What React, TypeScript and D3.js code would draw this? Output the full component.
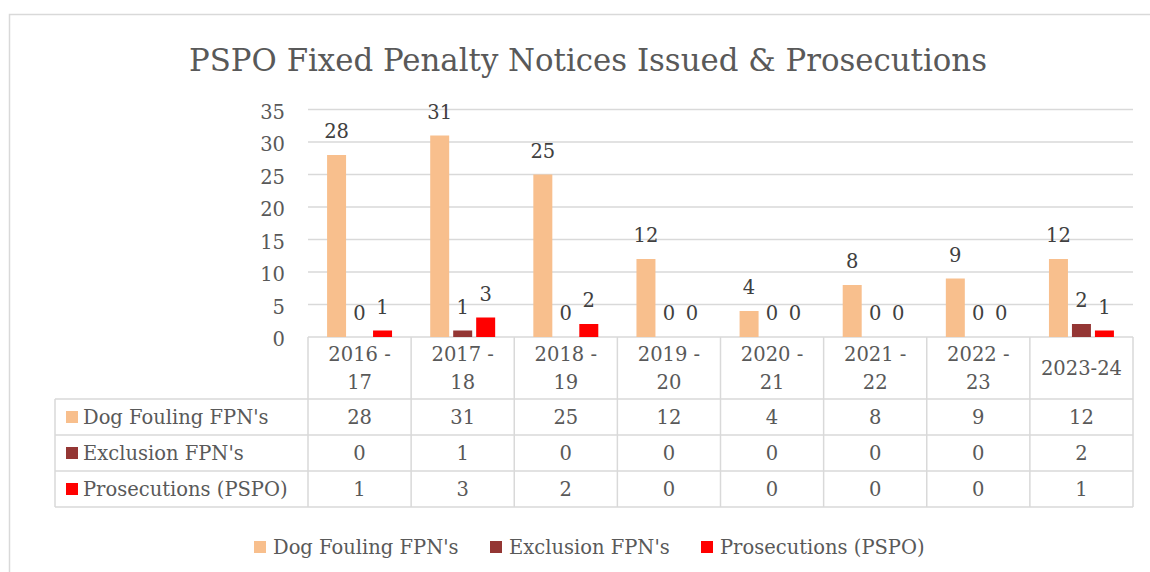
import React from "react";
import * as d3 from "d3";

const W = 1150;
const H = 572;
const FONT = "'DejaVu Serif', Cambria, serif";
const FS = 19.5;

const categories = ["2016 - 17", "2017 - 18", "2018 - 19", "2019 - 20", "2020 - 21", "2021 - 22", "2022 - 23", "2023-24"];
const seriesNames = ["Dog Fouling FPN's", "Exclusion FPN's", "Prosecutions (PSPO)"];
const dogFouling = [28, 31, 25, 12, 4, 8, 9, 12];
const exclusion = [0, 1, 0, 0, 0, 0, 0, 2];
const prosecutions = [1, 3, 2, 0, 0, 0, 0, 1];
const colors = ["#F8BF8D", "#943634", "#FF0000"];
const yTicks = [0, 5, 10, 15, 20, 25, 30, 35];

const PLOT = { left: 308, right: 1133, top: 109.5, bottom: 337 };
const TABLE = { left: 55, headerBottom: 399, rowH: 36 };
const LEGEND_X = [254, 490, 701];

const App = () => {
  const values = [dogFouling, exclusion, prosecutions];

  const x = d3.scaleBand<string>().domain(categories).range([PLOT.left, PLOT.right]).padding(0);
  const xInner = d3
    .scaleBand<string>()
    .domain(seriesNames)
    .range([0, x.bandwidth()])
    .paddingInner(0.174)
    .paddingOuter(0.83);
  const y = d3.scaleLinear().domain([0, 35]).range([PLOT.bottom, PLOT.top]);

  const grid = "#d9d9d9";
  const textCol = "#595959";
  const rowsBottom = TABLE.headerBottom + TABLE.rowH * seriesNames.length;

  return (
    <svg width={W} height={H} style={{ position: "absolute", left: 0, top: 0 }} fontFamily={FONT}>
      <rect x={0} y={0} width={W} height={H} fill="#fff" />
      <rect x={9.5} y={14.5} width={W + 20} height={H + 20} fill="none" stroke={grid} strokeWidth={1.5} />

      <text x={588} y={71} textAnchor="middle" fontSize={30.8} fill={textCol}>
        PSPO Fixed Penalty Notices Issued &amp; Prosecutions
      </text>

      {/* gridlines + y ticks */}
      {yTicks.map((t) => (
        <g key={t}>
          <line x1={PLOT.left} x2={PLOT.right} y1={y(t)} y2={y(t)} stroke={grid} strokeWidth={1.4} />
          <text x={285} y={y(t) + 2} dy="0.36em" textAnchor="end" fontSize={FS} fill={textCol}>
            {t}
          </text>
        </g>
      ))}

      {/* bars */}
      {seriesNames.map((s, si) => (
        <g key={s}>
          {categories.map((c, ci) => {
            const v = values[si][ci];
            const bx = (x(c) || 0) + (xInner(s) || 0);
            return (
              <g key={c}>
                <rect x={bx} y={y(v)} width={xInner.bandwidth()} height={y(0) - y(v)} fill={colors[si]} />
                <text x={bx + xInner.bandwidth() / 2} y={y(v) - 17} textAnchor="middle" fontSize={FS} fill="#404040">
                  {v}
                </text>
              </g>
            );
          })}
        </g>
      ))}

      {/* data table */}
      {categories.map((c, ci) => {
        const parts = c.includes(" - ") ? [c.split(" - ")[0] + " -", c.split(" - ")[1]] : [c];
        const cx = (x(c) || 0) + x.bandwidth() / 2;
        return (
          <g key={c}>
            {parts.length === 2 ? (
              <>
                <text x={cx} y={361} textAnchor="middle" fontSize={FS} fill={textCol}>{parts[0]}</text>
                <text x={cx} y={389} textAnchor="middle" fontSize={FS} fill={textCol}>{parts[1]}</text>
              </>
            ) : (
              <text x={cx} y={375} textAnchor="middle" fontSize={FS} fill={textCol}>{parts[0]}</text>
            )}
            {seriesNames.map((s, si) => (
              <text
                key={s}
                x={cx}
                y={TABLE.headerBottom + TABLE.rowH * si + TABLE.rowH / 2}
                dy="0.36em"
                textAnchor="middle"
                fontSize={FS}
                fill={textCol}
              >
                {values[si][ci]}
              </text>
            ))}
          </g>
        );
      })}
      {seriesNames.map((s, si) => {
        const cy = TABLE.headerBottom + TABLE.rowH * si + TABLE.rowH / 2;
        return (
          <g key={s}>
            <rect x={66} y={cy - 6} width={12} height={12} fill={colors[si]} />
            <text x={83} y={cy} dy="0.36em" fontSize={FS} fill={textCol}>
              {s}
            </text>
          </g>
        );
      })}
      {/* table lines */}
      {[0, 1, 2, 3].map((r) => (
        <line
          key={r}
          x1={TABLE.left}
          x2={PLOT.right}
          y1={TABLE.headerBottom + TABLE.rowH * r}
          y2={TABLE.headerBottom + TABLE.rowH * r}
          stroke={grid}
          strokeWidth={1.5}
        />
      ))}
      <line x1={TABLE.left} x2={TABLE.left} y1={TABLE.headerBottom} y2={rowsBottom} stroke={grid} strokeWidth={1.5} />
      {[...categories.map((c) => x(c) || 0), PLOT.right].map((vx, i) => (
        <line key={i} x1={vx} x2={vx} y1={PLOT.bottom} y2={rowsBottom} stroke={grid} strokeWidth={1.5} />
      ))}

      {/* legend */}
      {seriesNames.map((s, si) => (
        <g key={s} transform={`translate(${LEGEND_X[si]},547)`}>
          <rect x={0} y={-6} width={12} height={12} fill={colors[si]} />
          <text x={19} y={0} dy="0.36em" fontSize={FS} fill={textCol}>
            {s}
          </text>
        </g>
      ))}
    </svg>
  );
};

export default App;
